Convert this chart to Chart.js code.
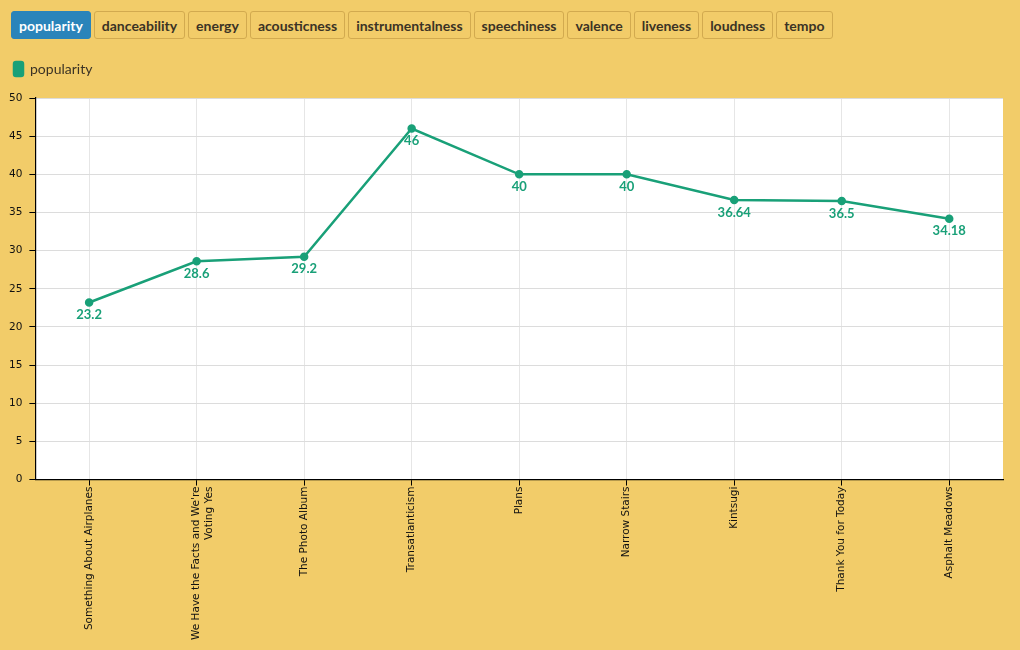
<!DOCTYPE html>
<html>
<head>
<meta charset="utf-8">
<script src="https://cdn.jsdelivr.net/npm/chart.js@4/dist/chart.umd.min.js"></script>
<style>
    body { margin: 0; background: #f2cc69; width: 1020px; height: 650px; overflow: hidden; font-family: Lato, "Open Sans", sans-serif; }
    #buttons { position: absolute; left: 11px; top: 11px; display: flex; gap: 3px; }
    #buttons button {
        font-family: Lato, sans-serif; font-weight: bold; font-size: 14px; color: #3b3325;
        background: #f2cc69; border: 1px solid #d2aa4f; border-radius: 3px;
        height: 28px; padding: 0 7px; margin: 0;
    }
    #buttons button.active { background: #2a84ba; color: #fff; border-color: #2a84ba; }
    #wrap { position: absolute; left: 0; top: 50px; width: 1020px; height: 600px; }
</style>
</head>
<body>
<div id="buttons"></div>
<div id="wrap"><canvas id="performanceChart"></canvas></div>
<script>
const features = ['popularity', 'danceability', 'energy', 'acousticness', 'instrumentalness', 'speechiness', 'valence', 'liveness', 'loudness', 'tempo'];
const albums = [
    'Something About Airplanes',
    ["We Have the Facts and We're", 'Voting Yes'],
    'The Photo Album',
    'Transatlanticism',
    'Plans',
    'Narrow Stairs',
    'Kintsugi',
    'Thank You for Today',
    'Asphalt Meadows'
];
const popularity = [23.2, 28.6, 29.2, 46, 40, 40, 36.64, 36.5, 34.18];
const yTicks = [0, 5, 10, 15, 20, 25, 30, 35, 40, 45, 50];

const lineColor = '#19a078';

function makeButtons() {
    const box = document.getElementById('buttons');
    features.forEach((f, i) => {
        const b = document.createElement('button');
        b.textContent = f;
        if (i === 0) b.className = 'active';
        box.appendChild(b);
    });
}

// white plot area
const plotBackground = {
    id: 'plotBackground',
    beforeDraw(chart) {
        const { ctx, chartArea } = chart;
        ctx.save();
        ctx.fillStyle = '#ffffff';
        ctx.fillRect(chartArea.left, chartArea.top, chartArea.right - chartArea.left, chartArea.bottom - chartArea.top);
        ctx.restore();
    }
};

// a bit more room under the legend
const legendGap = {
    id: 'legendGap',
    afterInit(chart) {
        const legend = chart.legend;
        const fit = legend.fit;
        legend.fit = function () {
            fit.call(this);
            this.height += 12;
        };
    }
};

// value labels under each point
const pointLabels = {
    id: 'pointLabels',
    afterDatasetsDraw(chart) {
        const ctx = chart.ctx;
        chart.data.datasets.forEach((ds, di) => {
            const meta = chart.getDatasetMeta(di);
            meta.data.forEach((pt, i) => {
                ctx.save();
                ctx.font = 'bold 13px Lato, sans-serif';
                ctx.fillStyle = lineColor;
                ctx.textAlign = 'center';
                ctx.textBaseline = 'top';
                ctx.fillText(String(ds.data[i]), pt.x, pt.y + 6);
                ctx.restore();
            });
        });
    }
};

function renderChart() {
    const ctx = document.getElementById('performanceChart').getContext('2d');
    new Chart(ctx, {
        type: 'line',
        data: {
            labels: albums,
            datasets: [{
                label: 'popularity',
                data: popularity,
                borderColor: lineColor,
                backgroundColor: lineColor,
                borderWidth: 2.5,
                pointRadius: 3,
                pointHoverRadius: 3,
                fill: false,
                tension: 0
            }]
        },
        plugins: [plotBackground, legendGap, pointLabels],
        options: {
            responsive: true,
            maintainAspectRatio: false,
            animation: false,
            layout: { padding: { left: 2, right: 17, top: 0, bottom: 9 } },
            plugins: {
                legend: {
                    position: 'top',
                    align: 'start',
                    labels: {
                        boxWidth: 9,
                        boxHeight: 14,
                        useBorderRadius: true,
                        borderRadius: 2,
                        padding: 12,
                        color: '#3b3325',
                        font: { family: 'Lato, sans-serif', size: 14 }
                    }
                },
                tooltip: { enabled: false }
            },
            scales: {
                x: {
                    offset: true,
                    grid: { offset: false, color: '#e6e6e6', tickColor: '#000', tickLength: 6 },
                    border: { color: '#000', width: 1.2 },
                    ticks: {
                        maxRotation: 90,
                        minRotation: 90,
                        color: '#111',
                        padding: 1,
                        font: { family: 'DejaVu Sans, sans-serif', size: 10.5 }
                    }
                },
                y: {
                    min: 0,
                    max: 50,
                    afterBuildTicks: axis => { axis.ticks = yTicks.map(v => ({ value: v })); },
                    grid: { color: '#dcdcdc', tickColor: '#000', tickLength: 6 },
                    border: { color: '#000', width: 1.2 },
                    ticks: {
                        color: '#111',
                        padding: 7,
                        font: { family: 'DejaVu Sans, sans-serif', size: 10.5 }
                    }
                }
            }
        }
    });
}

makeButtons();
renderChart();
</script>
</body>
</html>
